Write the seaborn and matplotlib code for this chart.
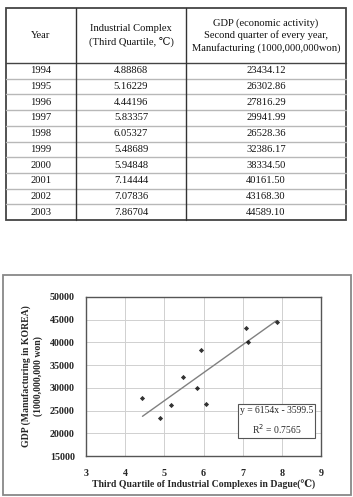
import numpy as np
import pandas as pd
import matplotlib
matplotlib.use("Agg")
import matplotlib.pyplot as plt
import seaborn as sns
from matplotlib.patches import Rectangle

years = [1994, 1995, 1996, 1997, 1998, 1999, 2000, 2001, 2002, 2003]
quartile = [4.88868, 5.16229, 4.44196, 5.83357, 6.05327, 5.48689, 5.94848, 7.14444, 7.07836, 7.86704]
gdp = [23434.12, 26302.86, 27816.29, 29941.99, 26528.36, 32386.17, 38334.50, 40161.50, 43168.30, 44589.10]
headers = ["Year", "Industrial Complex\n(Third Quartile, ℃)",
           "GDP (economic activity)\nSecond quarter of every year,\nManufacturing (1000,000,000won)"]
x_ticks = [3, 4, 5, 6, 7, 8, 9]
y_ticks = [15000, 20000, 25000, 30000, 35000, 40000, 45000, 50000]
eq_text = "y = 6154x - 3599.5\nR$^2$ = 0.7565"
xlabel = "Third Quartile of Industrial Complexes in Dague(℃)"
ylabel = "GDP (Manufacturing in KOREA)\n(1000,000,000 won)"

sns.set_theme(style="white")
plt.rcParams['font.family'] = ['Liberation Serif', 'DejaVu Serif', 'DejaVu Sans']

W, H = 353, 497
fig = plt.figure(figsize=(W / 100, H / 100), dpi=100)
fig.patch.set_facecolor("white")

bg = fig.add_axes([0, 0, 1, 1])
bg.set_xlim(0, W)
bg.set_ylim(H, 0)
bg.axis("off")

tx0, tx1 = 6, 346
cols = [6, 76, 186, 346]
ty0, thead = 8, 63
row_h = (220 - thead) / len(years)
ty1 = thead + row_h * len(years)

for i in range(1, len(years)):
    yy = thead + i * row_h
    bg.plot([tx0, tx1], [yy, yy], color="#b8b8b8", lw=1.0)
bg.plot([tx0, tx1], [thead, thead], color="#444444", lw=1.0)
for cx in cols[1:-1]:
    bg.plot([cx, cx], [ty0, ty1], color="#333333", lw=1.0)
bg.add_patch(Rectangle((tx0, ty0), tx1 - tx0, ty1 - ty0, fill=False, ec="#444444", lw=1.3))

fs = 7.6
for j, h in enumerate(headers):
    cx = (cols[j] + cols[j + 1]) / 2
    bg.text(cx, (ty0 + thead) / 2, h, ha="center", va="center", fontsize=fs,
            linespacing=1.35, color="#111111")
for i in range(len(years)):
    cy = thead + (i + 0.5) * row_h
    vals = [str(years[i]), f"{quartile[i]:.5f}", f"{gdp[i]:.2f}"]
    for j, v in enumerate(vals):
        cx = (cols[j] + cols[j + 1]) / 2
        bg.text(cx, cy, v, ha="center", va="center", fontsize=fs, color="#111111")

bg.add_patch(Rectangle((3, 275), 348, 220, fill=False, ec="#888888", lw=1.3))

ax = fig.add_axes([86 / W, 1 - 456 / H, 235 / W, 159 / H])
df = pd.DataFrame({"quartile": quartile, "gdp": gdp})
sns.regplot(data=df, x="quartile", y="gdp", ax=ax, ci=None, truncate=True,
            marker="D", scatter_kws=dict(s=7, color="black", zorder=3, linewidths=0),
            line_kws=dict(color="#808080", lw=1.0, zorder=2))
ax.set_xlim(3, 9)
ax.set_ylim(15000, 50000)
ax.set_xticks(x_ticks)
ax.set_yticks(y_ticks)
ax.set_xticklabels([str(t) for t in x_ticks], fontsize=7.2, fontweight="bold")
ax.set_yticklabels([str(t) for t in y_ticks], fontsize=7.2, fontweight="bold")
ax.grid(True, color="#d0d0d0", lw=0.7)
for s in ax.spines.values():
    s.set_color("#555555")
    s.set_linewidth(1.0)
ax.tick_params(axis="both", length=3, width=0.8, color="#555555", direction="out")
ax.tick_params(axis="y", pad=5)
ax.tick_params(axis="x", pad=6)
ax.set_xlabel(xlabel, fontsize=7.0, fontweight="bold", labelpad=2)
ax.set_ylabel(ylabel, fontsize=7.0, fontweight="bold", labelpad=5, linespacing=1.3)
ax.text(0.81, 0.22, eq_text, transform=ax.transAxes, ha="center", va="center",
        multialignment="center", fontsize=6.9, linespacing=1.55,
        bbox=dict(boxstyle="square,pad=0.22", fc="white", ec="#555555", lw=0.8))

fig.savefig("out.png", dpi=100)
